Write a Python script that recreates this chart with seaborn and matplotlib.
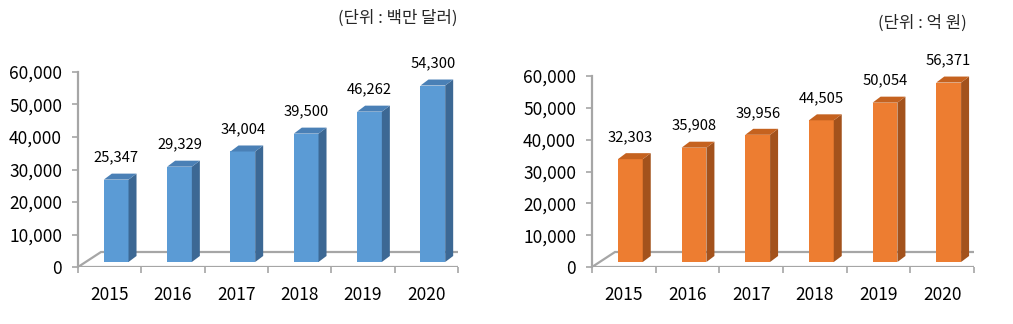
import matplotlib
matplotlib.use("Agg")
import matplotlib.pyplot as plt
from matplotlib.patches import Polygon, Rectangle
from matplotlib.ticker import FuncFormatter, FixedLocator
import seaborn as sns
import pandas as pd

# ---- data ----
years = ["2015", "2016", "2017", "2018", "2019", "2020"]
usd_million = [25347, 29329, 34004, 39500, 46262, 54300]
krw_100m = [32303, 35908, 39956, 44505, 50054, 56371]
yticks = [0, 10000, 20000, 30000, 40000, 50000, 60000]
unit_left = "(단위 : 백만 달러)"
unit_right = "(단위 : 억 원)"

sns.set_theme(style="white")
plt.rcParams["font.family"] = ["Noto Sans CJK KR", "DejaVu Sans"]

W, H, DPI = 1013, 324, 100
fig = plt.figure(figsize=(W / DPI, H / DPI), dpi=DPI)

GRAY = "#A6A6A6"


def draw_panel(rect, values, front, side, top):
    ax = fig.add_axes(rect)
    df = pd.DataFrame({"year": years, "value": values})
    sns.barplot(data=df, x="year", y="value", color=front, saturation=1,
                width=0.39, ax=ax, zorder=3)
    bars = [p for p in ax.patches if isinstance(p, Rectangle)]
    ax.set_xlim(-0.5, len(years) - 0.5)
    ax.set_ylim(0, 60000)
    ax.set_xlabel("")
    ax.set_ylabel("")
    for s in ["top", "right", "bottom"]:
        ax.spines[s].set_visible(False)
    ax.spines["left"].set_color(GRAY)
    ax.spines["left"].set_linewidth(1.6)
    ax.yaxis.set_major_locator(FixedLocator(yticks))
    ax.yaxis.set_major_formatter(FuncFormatter(lambda v, p: f"{int(v):,}"))
    ax.tick_params(axis="y", left=True, length=4.5, width=1.2, color=GRAY,
                   pad=7, labelsize=12.5, labelcolor="black")
    ax.set_xticks(range(len(years)))
    ax.set_xticklabels(years)
    ax.set_xticks([i - 0.5 for i in range(len(years) + 1)], minor=True)
    ax.tick_params(axis="x", which="major", bottom=True, length=0, pad=14,
                   labelsize=12.5, labelcolor="black")
    ax.tick_params(axis="x", which="minor", bottom=True, length=4, width=1.2,
                   color=GRAY)
    ax.patch.set_alpha(0)

    td = ax.transData
    # floor (3-D base)
    x0, y0 = td.transform((-0.5, 0))
    x1, _ = td.transform((len(years) - 0.5, 0))
    fdx, fdy = 23, 15
    floor = Polygon([(x0, y0), (x1, y0), (x1 + fdx, y0 + fdy), (x0 + fdx, y0 + fdy)],
                    closed=True, facecolor="white", edgecolor=GRAY,
                    linewidth=1.6, transform=None, zorder=1)
    ax.add_artist(floor)

    # bars: shift front face into the floor depth, then add side + top faces
    bx, by = 6.5, 5.0
    ddx, ddy = 8.0, 6.0
    for p in bars:
        (px0, py0), (px1, py1) = td.transform(
            [(p.get_x(), p.get_y()), (p.get_x() + p.get_width(), p.get_y() + p.get_height())])
        px0 += bx; px1 += bx; py0 += by; py1 += by
        p.set_visible(False)
        frontp = Polygon([(px0, py0), (px1, py0), (px1, py1), (px0, py1)], closed=True,
                         facecolor=front, edgecolor="none", transform=None, zorder=4)
        sidep = Polygon([(px1, py0), (px1 + ddx, py0 + ddy), (px1 + ddx, py1 + ddy), (px1, py1)],
                        closed=True, facecolor=side, edgecolor="none", transform=None, zorder=4)
        topp = Polygon([(px0, py1), (px1, py1), (px1 + ddx, py1 + ddy), (px0 + ddx, py1 + ddy)],
                       closed=True, facecolor=top, edgecolor="none", transform=None, zorder=4)
        for a in (frontp, sidep, topp):
            ax.add_artist(a)
    for i, v in enumerate(values):
        ax.annotate(f"{v:,}", xy=(i, v), xytext=(bx * 0.72, (by + 22) * 0.72),
                    textcoords="offset points", ha="center", va="center",
                    fontsize=10.6, color="black", annotation_clip=False)
    return ax


draw_panel([78 / W, 57 / H, 380 / W, 195 / H], usd_million,
           "#5B9BD5", "#3C6894", "#4A80B6")
draw_panel([592 / W, 57 / H, 382 / W, 191 / H], krw_100m,
           "#ED7D31", "#A3521C", "#C5621F")

fig.text(457 / W, 1 - 18 / H, unit_left, ha="right", va="center", fontsize=12)
fig.text(967 / W, 1 - 23 / H, unit_right, ha="right", va="center", fontsize=12)

fig.savefig("out.png", dpi=DPI)
